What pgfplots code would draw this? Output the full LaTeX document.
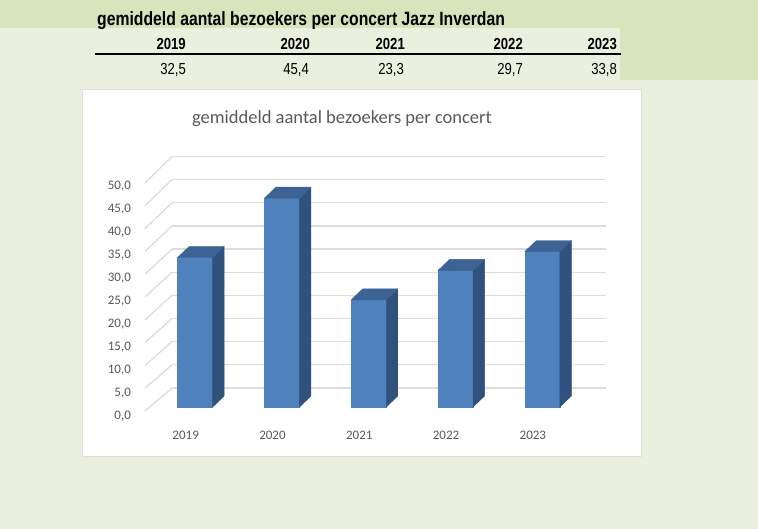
\documentclass[border=0pt]{standalone}
\usepackage{fontspec}
\setmainfont{Carlito}
\newfontfamily\narrowfont[FakeStretch=0.82]{Liberation Sans}
\usepackage{pgfplots}
\pgfplotsset{compat=1.18}
\definecolor{bgc}{HTML}{EBF0DE}
\definecolor{band}{HTML}{D8E4BC}
\definecolor{gridc}{HTML}{DCDCDC}
\definecolor{txtc}{HTML}{595959}
\definecolor{barfront}{HTML}{4F81BD}
\definecolor{bartop}{HTML}{3C6393}
\definecolor{barside}{HTML}{30517B}
\begin{document}
\begin{tikzpicture}[x=1pt,y=1pt]
% page background
\fill[bgc] (0,0) rectangle (758,529);
\fill[band] (0,529) rectangle (758,501);
\fill[band] (620,501) rectangle (758,449);
% table
\node[anchor=base west, inner sep=0pt, font=\narrowfont\bfseries\fontsize{19.2}{22}\selectfont] at (97,503.5) {gemiddeld aantal bezoekers per concert Jazz Inverdan};
\foreach \xx/\yr in {186/2019,310/2020,405/2021,523/2022,617/2023}{
  \node[anchor=base east, inner sep=0pt, font=\narrowfont\bfseries\fontsize{16}{18}\selectfont] at (\xx,479) {\yr};
}
\foreach \xx/\val in {186/{32,5},309/{45,4},404/{23,3},523/{29,7},617/{33,8}}{
  \node[anchor=base east, inner sep=0pt, font=\narrowfont\fontsize{16}{18}\selectfont] at (\xx,454) {\val};
}
\draw[line width=2.5pt] (95,475) -- (621,475);
% chart area
\filldraw[fill=white, draw=gray!25, line width=1pt] (82,439) rectangle (641,72);
\node[font=\fontsize{18.5}{22}\selectfont, text=txtc] at (342,410) {gemiddeld aantal bezoekers per concert};
% side wall lines
\foreach \v in {0,5,...,50}{
  \draw[gridc, line width=1.3pt] (172,{141+4.63*\v}) -- (145,{118+4.56*\v});
}
% back wall grid
\begin{axis}[
  at={(172pt,141pt)}, anchor=south west,
  width=434pt, height=231.5pt, scale only axis,
  xmin=0, xmax=1, ymin=0, ymax=50,
  xtick=\empty, ytick={0,5,...,50}, yticklabels={},
  ymajorgrids, grid style={gridc, line width=1.3pt},
  axis line style={draw=none}, major tick style={draw=none},
]
\end{axis}
% bars
\begin{axis}[
  at={(134.4pt,122pt)}, anchor=south west,
  x=86.8pt, y=4.6pt,
  xmin=-0.7, xmax=4.5, ymin=0, ymax=50,
  clip=false,
  axis line style={draw=none}, major tick style={draw=none},
  xtick={0,1,2,3,4}, xticklabels={2019,2020,2021,2022,2023},
  ytick={0,5,...,50},
  xticklabel style={anchor=center, xshift=-9.5pt, yshift=-28pt, font=\fontsize{13}{15}\selectfont, text=txtc},
  yticklabel style={yshift=-9pt, font=\fontsize{13}{15}\selectfont, text=txtc},
  /pgf/number format/.cd, fixed, fixed zerofill, precision=1, use comma, assume math mode=true,
]
\addplot[only marks, mark=*, mark size=0pt, mark options={draw=none, fill=none},
  scatter,
  visualization depends on={rawy \as \barval},
  scatter/@pre marker code/.code={%
    \pgfmathsetmacro\barh{\barval*4.6}%
    \pgfmathsetmacro\barb{11-\barh}%
    \fill[barfront] (-17.5pt,-\barh pt) rectangle (17.5pt,0pt);
    \fill[barside] (17.5pt,-\barh pt) -- (29pt,\barb pt) -- (29pt,11pt) -- (17.5pt,0pt) -- cycle;
    \fill[bartop] (-17.5pt,0pt) -- (-6pt,11pt) -- (29pt,11pt) -- (17.5pt,0pt) -- cycle;
  },
  scatter/@post marker code/.code={},
] coordinates {(0,32.5) (1,45.4) (2,23.3) (3,29.7) (4,33.8)};
\end{axis}
\pgfresetboundingbox
\path (0,0) rectangle (758,529);
\end{tikzpicture}
\end{document}
